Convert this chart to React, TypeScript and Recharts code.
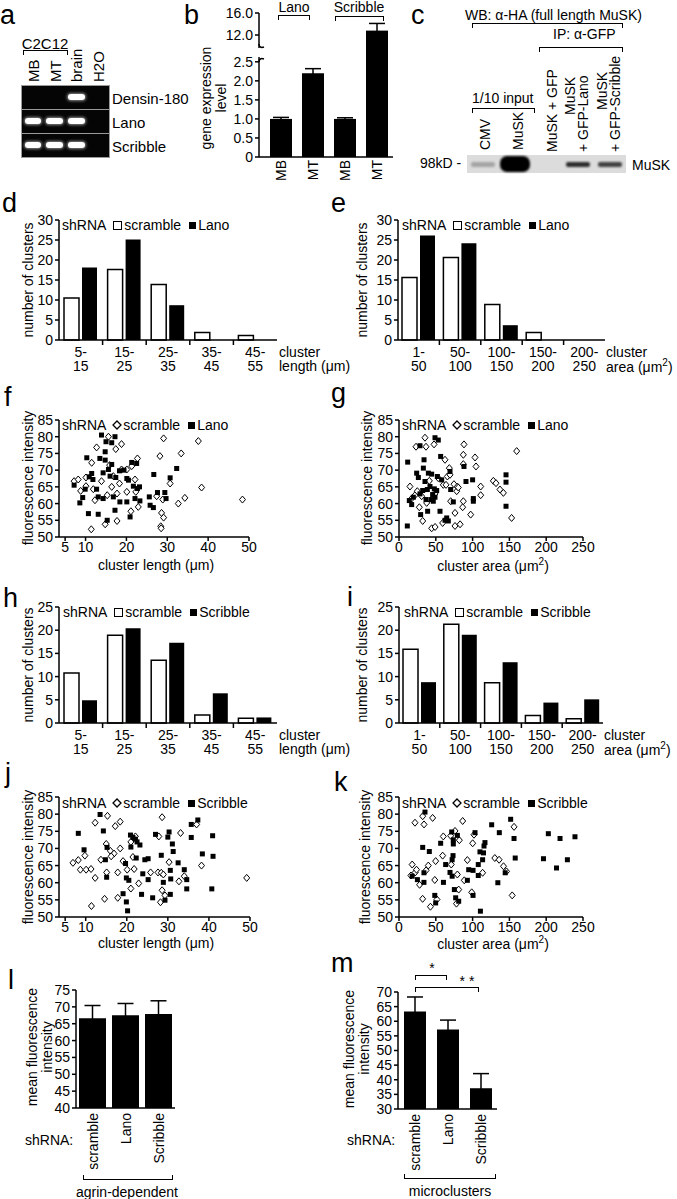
import React from "react"
import { BarChart, Bar, ScatterChart, Scatter, XAxis, YAxis, ErrorBar } from "recharts"

const FONT = '"Liberation Sans", Arial, Helvetica, sans-serif'
const AX = { stroke: "#000", strokeWidth: 1.5 }
const TK = { fontSize: 14, fill: "#000", fontFamily: FONT }

// a: RT-PCR gel
const gelLanes = ["MB", "MT", "brain", "H2O"]
const gelRows = ["Densin-180", "Lano", "Scribble"]
const gelBands = [
  [0, 0, 1, 0],
  [1, 1, 1, 0],
  [1, 1, 1, 0],
]

// b: gene expression
const bCats = ["MB", "MT", "MB", "MT"]
const bValues = [1.0, 2.2, 1.0, 12.8]
const bErrors = [0.04, 0.12, 0.03, 1.3]
const bLowTicks = [0, 0.5, 1, 1.5, 2, 2.5]
const bHighTicks = [12, 16]

// c: western blot
const blotSignal = [0.25, 1, 0, 0.8, 0.7]

// d / e / h / i histograms
const lenTop = ["5-", "15-", "25-", "35-", "45-"]
const lenBot = ["15", "25", "35", "45", "55"]
const areaTop = ["1-", "50-", "100-", "150-", "200-"]
const areaBot = ["50", "100", "150", "200", "250"]
const ticks30 = [0, 5, 10, 15, 20, 25, 30]
const ticks25 = [0, 5, 10, 15, 20, 25]
const dScramble = [10.5, 17.6, 13.9, 1.9, 1.1]
const dLano = [18.1, 25.1, 8.7, 0, 0]
const eScramble = [15.6, 20.6, 8.9, 1.9, 0]
const eLano = [26.1, 24.2, 3.7, 0, 0]
const hScramble = [10.8, 18.9, 13.5, 1.7, 1.0]
const hScribble = [4.9, 20.4, 17.3, 6.4, 1.2]
const iScramble = [15.9, 21.3, 8.7, 1.6, 0.9]
const iScribble = [8.8, 19.0, 13.1, 4.4, 5.1]

// f / g / j / k scatter: [x, intensity]
const intTicks = [50, 55, 60, 65, 70, 75, 80, 85]
const lenTicks = [5, 10, 20, 30, 40, 50]
const areaTicks = [0, 50, 100, 150, 200, 250]
const fScramble = [[7.2,66.7],[8.2,67.2],[8.8,63.8],[10.1,65.2],[10.1,67.8],[11.5,72.2],[11.9,64.3],[12.3,61],[12.7,76.8],[13.9,66.7],[11.4,52.3],[14.8,53.8],[15.3,62.5],[15.6,80],[15.9,71.5],[16.4,65],[16.8,68.2],[17.4,76.3],[17.7,63],[17.7,54.8],[18.3,66],[18.8,70.2],[18.8,77.8],[20.1,70.2],[20.1,63.5],[21.1,57.7],[21.3,71.2],[22.1,67.2],[22.3,63.5],[22.7,73.5],[22.9,59],[27.4,62.2],[28.2,74.2],[28.4,53.2],[28.6,57.2],[28.9,61.2],[29.1,79.5],[29.1,55.8],[30.7,66],[32.7,60],[33.4,75],[34.3,61.7],[37.6,78.7],[38.4,64.8],[48.4,61.2],[28.5,52.6]]
const fLano = [[7.2,65.5],[8.6,60.2],[9.3,61.8],[9.9,64.3],[10.3,73.7],[10.7,57],[10.9,68],[11.5,69],[11.8,67.2],[12.7,64.3],[13.1,56.8],[13.1,62],[13.5,73.5],[13.9,80.5],[14.3,61.5],[14.8,73],[14.8,75.5],[15,78.5],[14.3,69.2],[15.3,55],[15.6,70.2],[16,68.2],[16.4,78.2],[16.4,71.7],[16.8,62],[17.2,80],[17.2,58],[17.4,67.8],[18.3,69.8],[18.4,60.5],[19.4,70],[20.1,60.5],[20.1,67.5],[20.5,67],[20.9,56],[21.3,72.3],[21.7,65.2],[22.1,61.5],[22.5,72],[22.7,64.5],[23.2,65],[23.3,60.8],[25.6,62],[25.8,59.5],[26.7,68.7],[26.6,58.8],[27.6,63.3],[29.4,63.3],[29.7,61.5],[30.7,67.7],[32.3,70.5]]
const gScramble = [[14.9,65.1],[17.2,61.5],[21.7,62.5],[23.1,77],[24.9,63.7],[27.6,58.9],[30.8,62.2],[32.2,54.8],[35.3,79.7],[36.7,77],[37.6,60.2],[41.2,66.8],[44.4,52.6],[47.6,77.7],[48.9,62.9],[53.4,67.6],[59.3,54.2],[60.2,65.6],[62.5,73.1],[63.9,65.6],[65.7,68.1],[68.4,70.6],[69.3,68.6],[70.2,60.7],[74.7,65.8],[76.1,57.2],[76.1,53.3],[78.4,63.7],[79.3,65.1],[80.6,64.8],[86.5,58.9],[87.4,60.7],[87.4,71.8],[87.4,74.6],[88.3,77.7],[97.4,56.7],[103.3,73.8],[104.6,71.1],[111,65.1],[111,62.5],[128.2,66.8],[131.8,66.1],[137.2,64.2],[141.8,63.2],[153,55.7],[159.9,75.7],[49,53],[83,53.8]]
const gLano = [[11.3,53.3],[11.8,72.4],[14,60.9],[17.2,59.7],[19.5,61.9],[24,69.1],[26.3,67.8],[28.5,77.3],[28.5,62.9],[29.4,56.7],[32.2,63.9],[33.1,70.6],[34,73.1],[35.3,66.6],[36.7,61.2],[38.5,64.2],[38.9,57.7],[39.9,69.1],[42.1,65.1],[43.5,61.2],[44.4,68.8],[45.7,62.7],[46.6,60.7],[48,64.4],[48.9,61.9],[48.9,79.7],[51.2,63.9],[52.1,68.1],[53.4,79],[55.7,57.7],[56.6,74.1],[58,67.1],[62.5,55],[64.8,55.7],[67,54.8],[69.3,69.6],[70.2,64.2],[73.8,60.5],[88.3,71.1],[91,66.6],[100,67.1],[101,61.5],[101,60.7],[145.4,68.6],[145.4,66.4],[145.4,59.2]]
const jScramble = [[12.3,77.5],[15.3,79.5],[17.2,76.5],[18.4,77.8],[15,71.3],[22.1,73.5],[21,71.9],[16,69.3],[18.4,70],[28.6,79.1],[27.8,73.5],[33.1,74.5],[37,77],[6.9,65.8],[8.2,66.6],[8.7,63.8],[9.8,67.9],[10.1,63.8],[11.3,64],[12.3,61.4],[11.4,53.2],[13.7,66.7],[15.1,63],[14.6,55.3],[16.9,68.5],[16.2,67.7],[17.8,63],[17.8,55.6],[19.1,66.3],[20.1,63.8],[21,58.3],[21.5,67.5],[21.8,64],[22.9,59.8],[25.8,63],[27.6,63],[28.4,62.9],[28.9,62.4],[28.6,57.8],[29.3,56.3],[28.2,54.3],[30.3,66],[32.7,60.4],[34,61.9],[38.2,65],[49.2,61.4]]
const jScribble = [[13.5,79.9],[8.2,74.4],[14.3,75.1],[9.6,69.6],[15.2,70.3],[20.9,73.9],[21.5,73.2],[22.1,72.7],[22.5,71.9],[23.2,71],[27,74.1],[30.3,74.8],[31.1,71.3],[31.3,69.1],[35.7,77],[37.3,78.3],[35.7,73.2],[40.9,73.7],[38.4,68.4],[14.8,66.7],[15.1,61.6],[19.1,56.8],[19.9,54.4],[20.2,51.8],[19.7,65.6],[19.9,61.4],[20.5,60.7],[21,70.4],[22.3,67.2],[23.9,62.6],[23.6,56.6],[24.4,66.7],[25.2,67],[25.2,60.9],[26.3,55.6],[28.4,68],[28.9,60.1],[29.3,54.9],[30,73.3],[30.6,56.6],[30.6,63.6],[30.7,61.1],[32.5,65.8],[34,63.8],[34.6,60.9],[34.6,58.2],[41,67.7],[40.7,58.2]]
const kScramble = [[21.7,77.5],[34,77],[32.2,79.4],[45.7,78.9],[60.2,73.5],[70.2,73.7],[76.1,75.1],[82,72.4],[86.5,78],[100.1,71.5],[101.9,74],[156.3,76.3],[17.9,65.3],[16.2,62.1],[22,63],[23.8,63.8],[28,59.4],[32.1,55.3],[36.8,63.6],[39.8,65],[42.7,53],[51.6,55.1],[48.6,60.8],[49.8,66.3],[59.3,67.9],[71,65.3],[79.3,62.4],[81.1,58],[78.1,53.9],[88.7,60.7],[92.9,66.6],[98.8,57.2],[113.6,62.9],[130.2,67.2],[136,66.7],[142,64.8],[146.1,63.3],[153.8,56.3]]
const kScribble = [[35.3,80.6],[32.2,70.3],[41.2,69.1],[56.6,71.5],[71.6,74.8],[79.3,73.8],[73.8,72.5],[73.8,71.3],[103.3,74.6],[110,69],[116.8,71.7],[125.9,76.9],[136.3,74.6],[151.7,78.5],[156.3,72.9],[202.9,74.3],[218.8,72.9],[239.1,73.4],[115.5,70.7],[17.9,61.9],[25,60.9],[33.9,62.9],[33.9,60.1],[48.6,56.3],[49.8,54.1],[60.4,60.1],[63.4,65.3],[72.2,66.7],[73.4,67.9],[69.3,63],[72.2,61.9],[75.2,58],[77,55.6],[81.1,54.6],[92.9,60.7],[100.6,56.3],[94.7,63.8],[100.6,63.6],[107.7,65.3],[107.7,62.1],[110.6,51.7],[113.6,66.7],[114.8,68.7],[134.3,60],[144.3,62.9],[157.9,67.2],[196.3,67],[214,64.3],[228.8,66.7]]

// l / m mean intensity
const shCats = ["scramble", "Lano", "Scribble"]
const lValues = [66.6, 67.5, 67.9]
const lErrors = [3.8, 3.5, 3.9]
const lTicks = [40, 45, 50, 55, 60, 65, 70, 75]
const mValues = [63.3, 57.2, 37.1]
const mErrors = [5.0, 3.2, 5.0]
const mTicks = [30, 35, 40, 45, 50, 55, 60, 65, 70]

type P = { x: number; y: number; children?: React.ReactNode; s?: number }

const Txt = ({ x, y, children, s = 14, a = "l" }: P & { a?: string }) => (
  <div
    style={{
      position: "absolute", left: x, top: y, fontSize: s, lineHeight: 1, whiteSpace: "pre",
      transform: `translate(${a === "l" ? "0" : a === "c" ? "-50%" : "-100%"}, -50%)`,
    }}
  >
    {children}
  </div>
)

const VTxt = ({ x, y, children, s = 14 }: P) => (
  <div
    style={{
      position: "absolute", left: x, top: y, fontSize: s, lineHeight: 1.05, whiteSpace: "pre",
      textAlign: "center", transform: "translate(-50%, -50%) rotate(-90deg)",
    }}
  >
    {children}
  </div>
)

// rotated text that starts at (x, y) and reads upwards
const UpTxt = ({ x, y, children, s = 14 }: P) => (
  <div
    style={{
      position: "absolute", left: x, top: y, fontSize: s, lineHeight: 1, whiteSpace: "pre",
      transformOrigin: "0 0", transform: "rotate(-90deg) translate(0, -50%)",
    }}
  >
    {children}
  </div>
)

const Letter = ({ x, y, children }: P) => (
  <div style={{ position: "absolute", left: x, top: y - 23, fontSize: 27, lineHeight: 1 }}>{children}</div>
)

const Brace = ({ x1, x2, y, up = false }: { x1: number; x2: number; y: number; up?: boolean }) => (
  <div
    style={{
      position: "absolute", left: x1, top: up ? y - 5 : y, width: x2 - x1, height: 5, boxSizing: "border-box",
      borderLeft: "1.5px solid #000", borderRight: "1.5px solid #000",
      borderTop: up ? "none" : "1.5px solid #000", borderBottom: up ? "1.5px solid #000" : "none",
    }}
  />
)

const Key = ({ x, y, b, dots = false }: { x: number; y: number; b: string; dots?: boolean }) => (
  <div
    style={{
      position: "absolute", left: x, top: y, transform: "translateY(-50%)", fontSize: 14, lineHeight: 1,
      display: "flex", alignItems: "center", whiteSpace: "nowrap",
    }}
  >
    <span>shRNA</span>
    {dots ? (
      <svg width={10} height={10} style={{ margin: "0 1px 0 6px" }}>
        <polygon points="5,1 9,5 5,9 1,5" fill="#fff" stroke="#000" strokeWidth={1.3} />
      </svg>
    ) : (
      <span style={{ width: 7, height: 7, border: "1.5px solid #000", margin: "0 2px 0 7px" }} />
    )}
    <span>scramble</span>
    <span style={{ width: 7, height: 7, background: "#000", margin: "0 2px 0 8px" }} />
    <span>{b}</span>
  </div>
)

const catTick = (top: string[], bot: string[], cw: number, base: number) => (p: any) => {
  const i = p.payload.value
  const bx = p.x - cw / 2
  return (
    <g>
      {i > 0 && <line x1={bx} x2={bx} y1={base} y2={base + 5} stroke="#000" strokeWidth={1.5} />}
      <text x={p.x} y={base + 17} textAnchor="middle" {...TK}>{top[i]}</text>
      <text x={p.x} y={base + 31} textAnchor="middle" {...TK}>{bot[i]}</text>
    </g>
  )
}

function Hist({ x0, y0, w, h, yMax, yTicks, top, bot, a, b }: any) {
  const YW = 32, T = 9, XH = 38, R = 4
  const data = top.map((_: string, i: number) => ({ k: i, a: a[i], b: b[i] }))
  return (
    <div style={{ position: "absolute", left: x0 - YW, top: y0 - T }}>
      <BarChart
        width={YW + w + R}
        height={T + h + XH}
        data={data}
        margin={{ top: T, right: R, left: 0, bottom: 0 }}
        barSize={15}
        barGap={3}
      >
        <XAxis dataKey="k" height={XH} axisLine={AX} tickLine={false} interval={0} tick={catTick(top, bot, w / top.length, T + h)} />
        <YAxis width={YW} domain={[0, yMax]} ticks={yTicks} interval={0} axisLine={AX} tickLine={AX} tickSize={4} tickMargin={2} tick={TK} />
        <Bar dataKey="a" fill="#fff" stroke="#000" strokeWidth={1.5} isAnimationActive={false} />
        <Bar dataKey="b" fill="#000" isAnimationActive={false} />
      </BarChart>
    </div>
  )
}

const Diamond = (p: any) => (
  <polygon
    points={`${p.cx},${p.cy - 3.5} ${p.cx + 3},${p.cy} ${p.cx},${p.cy + 3.5} ${p.cx - 3},${p.cy}`}
    fill="#fff"
    stroke="#000"
    strokeWidth={1}
  />
)
const Square = (p: any) => <rect x={p.cx - 2.5} y={p.cy - 2.5} width={5} height={5} fill="#000" />

function Dots({ x0, y0, w, h, xDomain, xTicks, a, b }: any) {
  const YW = 32, T = 9, XH = 24, R = 18
  const pts = (arr: number[][]) => arr.map(([x, y]) => ({ x, y }))
  return (
    <div style={{ position: "absolute", left: x0 - YW, top: y0 - T }}>
      <ScatterChart width={YW + w + R} height={T + h + XH} margin={{ top: T, right: R, left: 0, bottom: 0 }}>
        <XAxis type="number" dataKey="x" domain={xDomain} ticks={xTicks} interval={0} height={XH} axisLine={AX} tickLine={AX} tickSize={4} tickMargin={1} tick={TK} allowDataOverflow />
        <YAxis type="number" dataKey="y" domain={[50, 85]} ticks={intTicks} interval={0} width={YW} axisLine={AX} tickLine={AX} tickSize={4} tickMargin={2} tick={TK} />
        <Scatter data={pts(a)} shape={Diamond} isAnimationActive={false} />
        <Scatter data={pts(b)} shape={Square} isAnimationActive={false} />
      </ScatterChart>
    </div>
  )
}

function Means({ x0, y0, w, h, domain, ticks, vals, errs, barSize }: any) {
  const YW = 32, T = 9, XH = 70, R = 4
  const base = T + h
  const data = shCats.map((c, i) => ({ c, v: vals[i], e: errs[i] }))
  const tick = (p: any) => (
    <text x={p.x} y={base + 5} transform={`rotate(-90, ${p.x}, ${base + 5})`} textAnchor="end" dy="0.36em" {...TK}>
      {p.payload.value}
    </text>
  )
  return (
    <div style={{ position: "absolute", left: x0 - YW, top: y0 - T }}>
      <BarChart width={YW + w + R} height={T + h + XH} data={data} margin={{ top: T, right: R, left: 0, bottom: 0 }}>
        <XAxis dataKey="c" height={XH} axisLine={AX} tickLine={false} interval={0} tick={tick} />
        <YAxis width={YW} domain={domain} ticks={ticks} interval={0} axisLine={AX} tickLine={AX} tickSize={4} tickMargin={2} tick={TK} />
        <Bar dataKey="v" fill="#000" barSize={barSize} isAnimationActive={false}>
          <ErrorBar dataKey="e" width={8} stroke="#000" strokeWidth={1.5} direction="y" />
        </Bar>
      </BarChart>
    </div>
  )
}

function Expression() {
  const YW = 40, w = 134, x0 = 259, R = 4
  const data = bCats.map((c, i) => ({ k: i, v: bValues[i], e: bErrors[i] }))
  const fmt = (v: number) => (v === 0 ? "0" : v.toFixed(1))
  const lowH = 99, lowT = 4
  const tick = (p: any) => (
    <text x={p.x} y={lowT + lowH + 3} transform={`rotate(-90, ${p.x}, ${lowT + lowH + 3})`} textAnchor="end" dy="0.36em" {...TK}>
      {bCats[p.payload.value]}
    </text>
  )
  return (
    <>
      {/* upper segment runs down to the lower plot so the tall bar is continuous */}
      <div style={{ position: "absolute", left: x0 - YW, top: 13 - 8 }}>
        <BarChart width={YW + w + R} height={8 + 45} data={data} margin={{ top: 8, right: R, left: 0, bottom: 0 }}>
          <XAxis dataKey="k" hide padding={{ left: 6, right: 0 }} />
          <YAxis width={YW} domain={[7.82, 16]} ticks={bHighTicks} interval={0} allowDataOverflow axisLine={AX} tickLine={AX} tickSize={4} tickMargin={2} tick={TK} tickFormatter={fmt} />
          <Bar dataKey="v" fill="#000" barSize={22} isAnimationActive={false}>
            <ErrorBar dataKey="e" width={8} stroke="#000" strokeWidth={1.5} direction="y" />
          </Bar>
        </BarChart>
      </div>
      <div style={{ position: "absolute", left: x0 - YW, top: 58 - lowT }}>
        <BarChart width={YW + w + R} height={lowT + lowH + 26} data={data} margin={{ top: lowT, right: R, left: 0, bottom: 0 }}>
          <XAxis dataKey="k" height={26} padding={{ left: 6, right: 0 }} axisLine={AX} tickLine={false} interval={0} tick={tick} />
          <YAxis width={YW} domain={[0, 2.6]} ticks={bLowTicks} interval={0} allowDataOverflow axisLine={AX} tickLine={AX} tickSize={4} tickMargin={2} tick={TK} tickFormatter={fmt} />
          <Bar dataKey="v" fill="#000" barSize={22} isAnimationActive={false}>
            <ErrorBar dataKey="e" width={8} stroke="#000" strokeWidth={1.5} direction="y" />
          </Bar>
        </BarChart>
      </div>
      <div style={{ position: "absolute", left: x0 - 4, top: 48, width: 8, height: 9, background: "#fff" }} />
      <svg style={{ position: "absolute", left: 250, top: 42 }} width={20} height={22}>
        <path d="M9 2 C9 5, 11 6, 14 5" fill="none" stroke="#000" strokeWidth={1.5} />
        <path d="M9 20 C9 17, 11 16, 14 17" fill="none" stroke="#000" strokeWidth={1.5} />
      </svg>
    </>
  )
}

function Gel() {
  const x0 = 22, y0 = 86, laneW = 21.75, rowH = 24
  return (
    <>
      {gelRows.map((r, i) => (
        <div
          key={r}
          style={{
            position: "absolute", left: x0, top: y0 + i * rowH, width: laneW * gelLanes.length, height: rowH - 1,
            background: "#050505", outline: "1px solid #9a9a9a",
          }}
        >
          {gelBands[i].map((on, j) =>
            on ? (
              <div
                key={j}
                style={{
                  position: "absolute", left: j * laneW + 2.5, top: rowH / 2 - 4, width: laneW - 5, height: 6,
                  background: "#fff", borderRadius: 3, boxShadow: "0 0 3px 1px rgba(255,255,255,0.55)",
                }}
              />
            ) : null
          )}
        </div>
      ))}
      {gelRows.map((r, i) => (
        <Txt key={r} x={112} y={y0 + i * rowH + rowH / 2} s={15}>{r}</Txt>
      ))}
      {gelLanes.map((l, j) => (
        <UpTxt key={l} x={x0 + (j + 0.5) * laneW} y={82} s={15}>{l}</UpTxt>
      ))}
    </>
  )
}

function Blot() {
  const x0 = 467, w = 159, laneW = w / blotSignal.length
  return (
    <div style={{ position: "absolute", left: x0, top: 155, width: w, height: 18, background: "#dcdcdc" }}>
      {blotSignal.map((s, i) => {
        const big = s > 0.9
        const bw = big ? 30 : 24
        const bh = big ? 16 : 5
        return s > 0 ? (
          <div
            key={i}
            style={{
              position: "absolute", left: (i + 0.5) * laneW - bw / 2, top: 9 - bh / 2, width: bw, height: bh,
              background: `rgba(0,0,0,${s})`, borderRadius: big ? 7 : 2, filter: "blur(0.8px)",
            }}
          />
        ) : null
      })}
    </div>
  )
}

export default function App() {
  return (
    <div
      style={{
        position: "absolute", left: 0, top: 0, width: 677, height: 1199, background: "#fff", color: "#000",
        fontFamily: FONT, overflow: "hidden",
      }}
    >
      {/* a */}
      <Letter x={0} y={25}>a</Letter>
      <Txt x={45} y={43} a="c" s={15}>C2C12</Txt>
      <Brace x1={23} x2={68} y={50} />
      <Gel />

      {/* b */}
      <Letter x={184} y={25}>b</Letter>
      <Expression />
      <Txt x={294} y={7} a="c">Lano</Txt>
      <Brace x1={278} x2={310} y={15} />
      <Txt x={359} y={7} a="c">Scribble</Txt>
      <Brace x1={335} x2={384} y={16} />
      <VTxt x={214} y={98}>{"gene expression\nlevel"}</VTxt>

      {/* c */}
      <Letter x={411} y={25}>c</Letter>
      <Txt x={465} y={15}>WB: α-HA (full length MuSK)</Txt>
      <Brace x1={472} x2={623} y={23} />
      <Txt x={553} y={34}>IP: α-GFP</Txt>
      <Brace x1={539} x2={623} y={47} />
      <Txt x={472} y={98}>1/10 input</Txt>
      <Brace x1={472} x2={535} y={108} />
      <UpTxt x={485} y={150}>CMV</UpTxt>
      <UpTxt x={518} y={150}>MuSK</UpTxt>
      <UpTxt x={552} y={152}>MuSK + GFP</UpTxt>
      <UpTxt x={570} y={115}>MuSK</UpTxt>
      <UpTxt x={583} y={152}>+ GFP-Lano</UpTxt>
      <UpTxt x={602} y={110}>MuSK</UpTxt>
      <UpTxt x={615} y={152}>+ GFP-Scribble</UpTxt>
      <Blot />
      <Txt x={420} y={163}>98kD -</Txt>
      <Txt x={632} y={165}>MuSK</Txt>

      {/* d */}
      <Letter x={2} y={213}>d</Letter>
      <Hist x0={59} y0={220} w={218} h={120} yMax={30} yTicks={ticks30} top={lenTop} bot={lenBot} a={dScramble} b={dLano} />
      <Key x={62} y={225} b="Lano" />
      <VTxt x={28} y={280}>number of clusters</VTxt>
      <Txt x={279} y={352}>cluster</Txt>
      <Txt x={279} y={366}>length (μm)</Txt>

      {/* e */}
      <Letter x={331} y={213}>e</Letter>
      <Hist x0={398} y0={220} w={207} h={120} yMax={30} yTicks={ticks30} top={areaTop} bot={areaBot} a={eScramble} b={eLano} />
      <Key x={402} y={225} b="Lano" />
      <VTxt x={362} y={280}>number of clusters</VTxt>
      <Txt x={606} y={352}>cluster</Txt>
      <Txt x={606} y={366}>area (μm<sup style={{ fontSize: 10 }}>2</sup>)</Txt>

      {/* f */}
      <Letter x={4} y={407}>f</Letter>
      <Dots x0={59} y0={420} w={190} h={117} xDomain={[3.5, 50]} xTicks={lenTicks} a={fScramble} b={fLano} />
      <Key x={62} y={425} b="Lano" dots />
      <VTxt x={28} y={478}>fluorescence intensity</VTxt>
      <Txt x={156} y={565} a="c">cluster length (μm)</Txt>

      {/* g */}
      <Letter x={331} y={403}>g</Letter>
      <Dots x0={399} y0={420} w={184} h={117} xDomain={[0, 250]} xTicks={areaTicks} a={gScramble} b={gLano} />
      <Key x={402} y={425} b="Lano" dots />
      <VTxt x={367} y={478}>fluorescence intensity</VTxt>
      <Txt x={493} y={565} a="c">cluster area (μm<sup style={{ fontSize: 10 }}>2</sup>)</Txt>

      {/* h */}
      <Letter x={3} y={608}>h</Letter>
      <Hist x0={59} y0={607} w={218} h={116} yMax={25} yTicks={ticks25} top={lenTop} bot={lenBot} a={hScramble} b={hScribble} />
      <Key x={63} y={612} b="Scribble" />
      <VTxt x={28} y={665}>number of clusters</VTxt>
      <Txt x={279} y={735}>cluster</Txt>
      <Txt x={279} y={749}>length (μm)</Txt>

      {/* i */}
      <Letter x={347} y={607}>i</Letter>
      <Hist x0={399} y0={607} w={204} h={116} yMax={25} yTicks={ticks25} top={areaTop} bot={areaBot} a={iScramble} b={iScribble} />
      <Key x={404} y={612} b="Scribble" />
      <VTxt x={362} y={665}>number of clusters</VTxt>
      <Txt x={604} y={735}>cluster</Txt>
      <Txt x={604} y={749}>area (μm<sup style={{ fontSize: 10 }}>2</sup>)</Txt>

      {/* j */}
      <Letter x={5} y={783}>j</Letter>
      <Dots x0={59} y0={797} w={191} h={120} xDomain={[3.5, 50]} xTicks={lenTicks} a={jScramble} b={jScribble} />
      <Key x={62} y={803} b="Scribble" dots />
      <VTxt x={28} y={857}>fluorescence intensity</VTxt>
      <Txt x={156} y={943} a="c">cluster length (μm)</Txt>

      {/* k */}
      <Letter x={334} y={792}>k</Letter>
      <Dots x0={399} y0={797} w={184} h={120} xDomain={[0, 250]} xTicks={areaTicks} a={kScramble} b={kScribble} />
      <Key x={402} y={803} b="Scribble" dots />
      <VTxt x={365} y={857}>fluorescence intensity</VTxt>
      <Txt x={493} y={943} a="c">cluster area (μm<sup style={{ fontSize: 10 }}>2</sup>)</Txt>

      {/* l */}
      <Letter x={8} y={990}>l</Letter>
      <Means x0={76} y0={990} w={99} h={118} domain={[40, 75]} ticks={lTicks} vals={lValues} errs={lErrors} barSize={27} />
      <VTxt x={40} y={1047}>{"mean fluorescence\nintensity"}</VTxt>
      <Txt x={25} y={1140}>shRNA:</Txt>
      <Brace x1={83} x2={173} y={1180} up />
      <Txt x={127} y={1192} a="c">agrin-dependent</Txt>

      {/* m */}
      <Letter x={331} y={973}>m</Letter>
      <Means x0={398} y0={992} w={99} h={117} domain={[30, 70]} ticks={mTicks} vals={mValues} errs={mErrors} barSize={22} />
      <VTxt x={357} y={1049}>{"mean fluorescence\nintensity"}</VTxt>
      <Brace x1={415} x2={447} y={975} />
      <Txt x={432} y={968} a="c">*</Txt>
      <Brace x1={415} x2={479} y={987} />
      <Txt x={467} y={981} a="c">* *</Txt>
      <Txt x={347} y={1140}>shRNA:</Txt>
      <Brace x1={404} x2={496} y={1179} up />
      <Txt x={450} y={1191} a="c">microclusters</Txt>
    </div>
  )
}
